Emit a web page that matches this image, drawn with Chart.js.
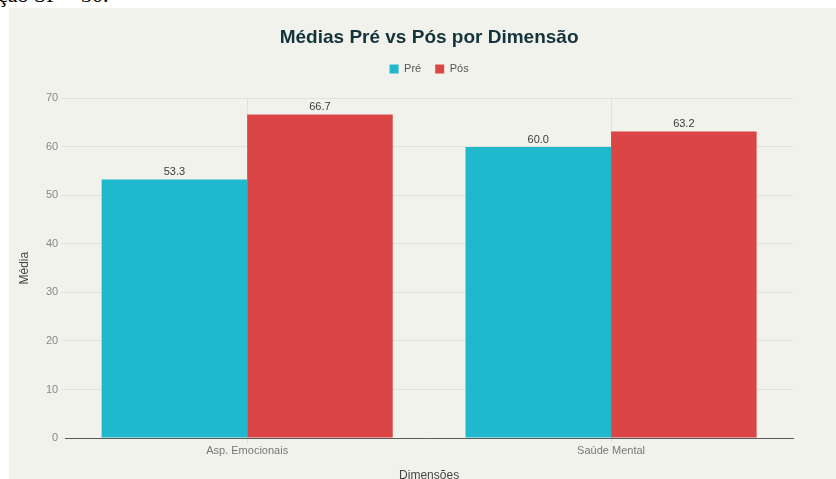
<!DOCTYPE html>
<html>
<head>
<meta charset="utf-8">
<script src="https://cdn.jsdelivr.net/npm/chart.js@4"></script>
<style>
  html,body{margin:0;padding:0;background:#ffffff;width:836px;height:479px;overflow:hidden;position:relative;}
  #top{position:absolute;left:-2px;top:-18.5px;font-family:"Liberation Serif",serif;font-size:22px;color:#000;white-space:nowrap;}
  #wrap{position:absolute;left:9px;top:8px;width:827px;height:471px;background:#f2f2ed;}
</style>
</head>
<body>
<div id="top">ção SP = 30.</div>
<div id="wrap"><canvas id="c" width="827" height="471"></canvas></div>
<script>
const categories = ["Asp. Emocionais", "Saúde Mental"];
const preValues = [53.3, 60.0];
const posValues = [66.7, 63.2];
const seriesNames = ["Pré", "Pós"];
const chartTitle = "Médias Pré vs Pós por Dimensão";
const xTitle = "Dimensões";
const yTitle = "Média";

const FONT = "'Liberation Sans', Arial, sans-serif";

const valueLabels = {
  id: 'valueLabels',
  afterDatasetsDraw(chart) {
    const ctx = chart.ctx;
    ctx.save();
    ctx.font = "11px " + FONT;
    ctx.fillStyle = "#3a3a3a";
    ctx.textAlign = "center";
    ctx.textBaseline = "alphabetic";
    chart.data.datasets.forEach((ds, i) => {
      chart.getDatasetMeta(i).data.forEach((bar, j) => {
        ctx.fillText(ds.data[j].toFixed(1), bar.x, bar.y - 4);
      });
    });
    ctx.restore();
  }
};

// extra space below the legend
const legendGap = {
  id: 'legendGap',
  afterInit(chart) {
    const lg = chart.legend;
    if (lg && !lg._gapPatched) {
      const orig = lg.fit;
      lg.fit = function () { orig.call(this); this.height += 14; };
      lg._gapPatched = true;
    }
  }
};

new Chart(document.getElementById('c'), {
  type: 'bar',
  data: {
    labels: categories,
    datasets: [
      { label: seriesNames[0], data: preValues, backgroundColor: '#1fb8cd', borderWidth: 0, categoryPercentage: 0.8, barPercentage: 1.0 },
      { label: seriesNames[1], data: posValues, backgroundColor: '#db4545', borderWidth: 0, categoryPercentage: 0.8, barPercentage: 1.0 }
    ]
  },
  options: {
    responsive: false,
    animation: false,
    layout: { padding: { left: 4, right: 43, top: 14, bottom: 0 } },
    plugins: {
      title: { display: true, fullSize: false, text: chartTitle, color: '#13343b', font: { family: FONT, size: 19, weight: 'bold' }, padding: { top: 4.6, bottom: 0 } },
      legend: {
        display: true,
        fullSize: false,
        labels: { boxWidth: 9, boxHeight: 9, color: '#555', font: { family: FONT, size: 11 }, padding: 14 }
      },
      tooltip: { enabled: false }
    },
    scales: {
      x: {
        grid: { display: true, offset: false, color: '#e2e2dc', tickLength: 5, drawTicks: true },
        border: { display: true, color: '#5a5a5a', width: 1 },
        ticks: { color: '#777', font: { family: FONT, size: 11 }, padding: 1 },
        title: { display: true, text: xTitle, color: '#444', font: { family: FONT, size: 12 }, padding: { top: 10.4, bottom: -4 } }
      },
      y: {
        min: 0, max: 70,
        grid: { color: '#e2e2dc', tickLength: 4 },
        border: { display: false },
        ticks: { stepSize: 10, color: '#888', font: { family: FONT, size: 11 }, padding: 3 },
        title: { display: true, text: yTitle, color: '#444', font: { family: FONT, size: 12 }, padding: { top: 4, bottom: 11.6 } }
      }
    }
  },
  plugins: [valueLabels, legendGap]
});
</script>
</body>
</html>
